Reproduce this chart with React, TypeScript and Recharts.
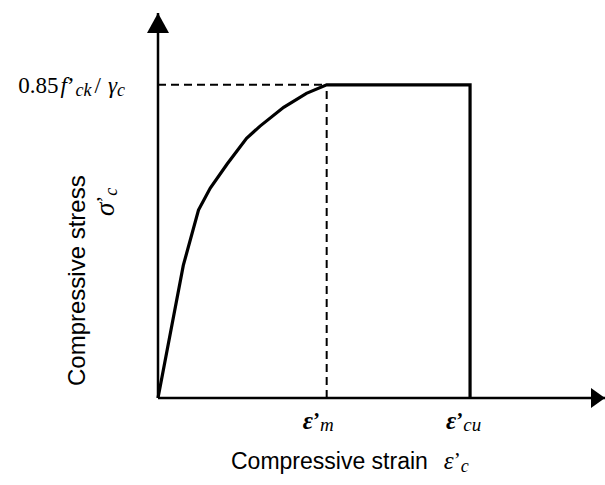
import React from 'react'
import { LineChart, Line, XAxis, YAxis, ReferenceLine, Label } from 'recharts'

// stress-strain curve (strain in ‰, stress normalised to f'ck/γc)
const strain = [0, 0.3, 0.48, 0.62, 0.82, 1.05, 1.21, 1.49, 1.76, 2.0, 3.7, 3.7]
const stress = [0, 0.36, 0.51, 0.57, 0.635, 0.705, 0.738, 0.789, 0.827, 0.85, 0.85, 0]
const EPS_M = 2.0
const EPS_CU = 3.7
const PEAK = 0.85
const xTicks = [EPS_M, EPS_CU]
const xTickSubs = ['m', 'cu']
const yTicks = [PEAK]

const data = strain.map((s, i) => ({ strain: s, stress: stress[i] }))

const SERIF = '"Liberation Serif", "Times New Roman", serif'
const SANS = '"Liberation Sans", Arial, sans-serif'

const StrainTick = (props: any) => {
  const { x, y, payload } = props
  const idx = xTicks.indexOf(payload.value)
  return (
    <text x={x - 24} y={y + 23} fontFamily={SERIF} fill="#000" textAnchor="start">
      <tspan fontSize={25} fontStyle="italic" fontWeight="bold">ε</tspan>
      <tspan fontSize={21} fontWeight="bold" dy={-2}>’</tspan>
      <tspan fontSize={19} fontStyle="italic" dy={4}>{xTickSubs[idx]}</tspan>
    </text>
  )
}

const StressTick = (props: any) => {
  const { x, y } = props
  return (
    <text x={x - 25} y={y + 8} fontFamily={SERIF} fill="#000" textAnchor="end" fontSize={23}>
      <tspan>0.85</tspan>
      <tspan fontStyle="italic" dx={2}>f</tspan>
      <tspan dx={0}>’</tspan>
      <tspan fontStyle="italic" fontSize={18} dy={3} dx={1}>ck</tspan>
      <tspan dy={-3} dx={3}>/</tspan>
      <tspan fontStyle="italic" dx={7}>γ</tspan>
      <tspan fontStyle="italic" fontSize={18} dy={3}>c</tspan>
    </text>
  )
}

export default function App() {
  return (
    <div style={{ position: 'absolute', left: 0, top: 0, background: '#fff' }}>
      <LineChart width={605} height={485} data={data}
        margin={{ top: 13, right: 0, bottom: 86, left: 157 }}>
        <defs>
          <marker id="arrX" viewBox="0 0 14 20" refX={14} refY={10} markerWidth={14} markerHeight={20}
            markerUnits="userSpaceOnUse" orient="auto">
            <path d="M0,0 L14,10 L0,20 z" fill="#000" />
          </marker>
          <marker id="arrY" viewBox="0 0 20 22" refX={20} refY={11} markerWidth={20} markerHeight={22}
            markerUnits="userSpaceOnUse" orient="auto-start-reverse">
            <path d="M0,0 L20,11 L0,22 z" fill="#000" />
          </marker>
        </defs>
        <XAxis dataKey="strain" type="number" domain={[0, 5.3]} ticks={xTicks} height={1}
          axisLine={{ stroke: '#000', strokeWidth: 2.5, markerEnd: 'url(#arrX)' } as any}
          tickLine={false} tick={<StrainTick />} interval={0}>
          <Label content={(p: any) => {
            const vb = p.viewBox
            return (
              <text x={vb.x + 73} y={vb.y + 71} fill="#000">
                <tspan fontFamily={SANS} fontSize={23}>Compressive strain</tspan>
                <tspan fontFamily={SERIF} fontSize={25} fontStyle="italic" dx={16}>ε</tspan>
                <tspan fontFamily={SERIF} fontSize={21} dy={-2}>’</tspan>
                <tspan fontFamily={SERIF} fontSize={18} fontStyle="italic" dy={5}>c</tspan>
              </text>
            )
          }} />
        </XAxis>
        <YAxis dataKey="stress" type="number" domain={[0, 1.045]} ticks={yTicks} width={1}
          axisLine={{ stroke: '#000', strokeWidth: 2.5, markerStart: 'url(#arrY)' } as any}
          tickLine={false} tick={<StressTick />} interval={0}>
          <Label content={(p: any) => {
            const vb = p.viewBox
            const ax = vb.x + vb.width
            const bottom = vb.y + vb.height
            const tx = ax - 73
            const ty = bottom - 12
            const sx = ax - 44
            const sy = bottom - 182
            return (
              <g fill="#000">
                <text x={tx} y={ty} transform={`rotate(-90 ${tx} ${ty})`}
                  fontFamily={SANS} fontSize={24}>Compressive stress</text>
                <text x={sx} y={sy} transform={`rotate(-90 ${sx} ${sy})`} fontFamily={SERIF}>
                  <tspan fontSize={27} fontStyle="italic">σ</tspan>
                  <tspan fontSize={21} dy={-3}>’</tspan>
                  <tspan fontSize={18} fontStyle="italic" dy={6}>c</tspan>
                </text>
              </g>
            )
          }} />
        </YAxis>
        <ReferenceLine segment={[{ x: 0, y: PEAK }, { x: EPS_M, y: PEAK }]}
          stroke="#000" strokeWidth={2} strokeDasharray="8 5" />
        <ReferenceLine segment={[{ x: EPS_M, y: 0 }, { x: EPS_M, y: PEAK }]}
          stroke="#000" strokeWidth={2} strokeDasharray="8 5" />
        <Line dataKey="stress" type="linear" stroke="#000" strokeWidth={3.2} dot={false}
          strokeLinejoin="miter" isAnimationActive={false} />
      </LineChart>
    </div>
  )
}
